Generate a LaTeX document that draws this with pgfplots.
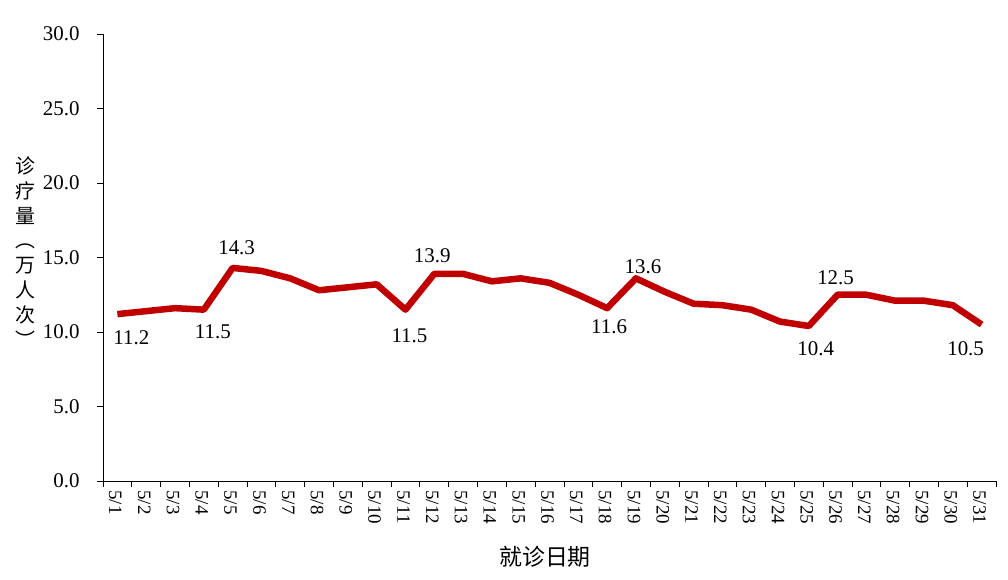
\documentclass[border=0pt]{standalone}
\usepackage{fontspec}
\setmainfont{Liberation Serif}
\newfontfamily\cjk{Noto Sans CJK SC}
\usepackage{pgfplots}
\pgfplotsset{compat=1.18}
\definecolor{linered}{HTML}{C00000}

\pgfplotstableread{
x y
0 11.2
1 11.4
2 11.6
3 11.5
4 14.3
5 14.1
6 13.6
7 12.8
8 13.0
9 13.2
10 11.5
11 13.9
12 13.9
13 13.4
14 13.6
15 13.3
16 12.5
17 11.6
18 13.6
19 12.7
20 11.9
21 11.8
22 11.5
23 10.7
24 10.4
25 12.5
26 12.5
27 12.1
28 12.1
29 11.8
30 10.5
}\visits

\begin{document}
\begin{tikzpicture}
\useasboundingbox (0,0) rectangle (1008bp,580bp);
\begin{axis}[
    at={(103bp,99bp)}, anchor=south west,
    width=893bp, height=447bp, scale only axis,
    axis x line*=bottom, axis y line*=left,
    axis line style={-, line width=1pt},
    xmin=-0.5, xmax=30.5,
    ymin=0, ymax=30,
    ytick={0,5,...,30},
    xtick={0,...,30},
    xticklabels={5/1,5/2,5/3,5/4,5/5,5/6,5/7,5/8,5/9,5/10,5/11,5/12,5/13,5/14,5/15,5/16,5/17,5/18,5/19,5/20,5/21,5/22,5/23,5/24,5/25,5/26,5/27,5/28,5/29,5/30,5/31},
    minor xtick={-0.5,0.5,...,30.5},
    tick align=outside,
    major tick length=6bp, minor tick length=6bp,
    major x tick style={draw=none},
    tick style={black, line width=0.8pt},
    /pgf/number format/assume math mode=true,
    yticklabel style={font=\fontsize{21}{24}\selectfont, xshift=-14bp,
        /pgf/number format/.cd, fixed, fixed zerofill, precision=1},
    xticklabel style={font=\fontsize{19}{22}\selectfont, rotate=-90, anchor=west, yshift=-2bp},
    clip=false,
]
\addplot[linered, line width=6.5bp, line join=round, mark=none] table[x=x, y=y] {\visits};
% value labels, offset from their points as in the source chart
\begin{scope}[every node/.style={font=\fontsize{21}{24}\selectfont, inner sep=0pt}]
\node[xshift=14bp, yshift=-24bp] at (axis cs:0,11.2) {11.2};
\node[xshift=9bp, yshift=-22bp] at (axis cs:3,11.5) {11.5};
\node[xshift=4bp, yshift=20bp] at (axis cs:4,14.3) {14.3};
\node[xshift=4bp, yshift=-26bp] at (axis cs:10,11.5) {11.5};
\node[xshift=-2bp, yshift=18bp] at (axis cs:11,13.9) {13.9};
\node[xshift=2bp, yshift=-19bp] at (axis cs:17,11.6) {11.6};
\node[xshift=7bp, yshift=12bp] at (axis cs:18,13.6) {13.6};
\node[xshift=7bp, yshift=-23bp] at (axis cs:24,10.4) {10.4};
\node[xshift=-2bp, yshift=17bp] at (axis cs:25,12.5) {12.5};
\node[xshift=-16bp, yshift=-24bp] at (axis cs:30,10.5) {10.5};
\end{scope}
\end{axis}
\node[font=\cjk\fontsize{20}{25}\selectfont, align=center] at (25bp,328bp) {诊\\疗\\量\\︵\\万\\人\\次\\︶};
\node[font=\cjk\fontsize{23}{26}\selectfont] at (545bp,23bp) {就诊日期};
\end{tikzpicture}
\end{document}
